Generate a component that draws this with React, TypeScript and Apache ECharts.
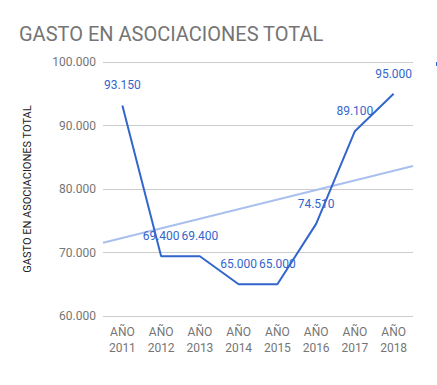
import React, { useEffect, useRef } from "react";
import * as echarts from "echarts";

const categories = ["AÑO\n2011", "AÑO\n2012", "AÑO\n2013", "AÑO\n2014", "AÑO\n2015", "AÑO\n2016", "AÑO\n2017", "AÑO\n2018"];
const values = [93150, 69400, 69400, 65000, 65000, 74510, 89100, 95000];
const seriesName = "GASTO EN ASOCIACIONES TOTAL";
const titleText = "GASTO EN ASOCIACIONES TOTAL";

function fmt(v: number): string {
  return Math.round(v).toString().replace(/\B(?=(\d{3})+(?!\d))/g, ".");
}

function trend(vals: number[]): [number, number][] {
  const n = vals.length;
  const mx = (n - 1) / 2;
  const my = vals.reduce((a, b) => a + b, 0) / n;
  let sxy = 0, sxx = 0;
  vals.forEach((v, i) => { sxy += (i - mx) * (v - my); sxx += (i - mx) * (i - mx); });
  const b = sxy / sxx;
  const a = my - b * mx;
  return [[-0.5, a + b * -0.5], [n - 0.5, a + b * (n - 0.5)]];
}

export default function App() {
  const ref = useRef<HTMLDivElement>(null);
  useEffect(() => {
    if (!ref.current) return;
    const chart = echarts.init(ref.current, null, { renderer: "svg" });
    const font = "Roboto, 'Noto Sans', sans-serif";
    chart.setOption({
      animation: false,
      backgroundColor: "#ffffff",
      textStyle: { fontFamily: font },
      title: {
        text: titleText,
        left: 14,
        top: 19,
        textStyle: { fontFamily: font, fontSize: 20, fontWeight: "normal", color: "#757575" },
      },
      legend: {
        left: 431,
        top: 57,
        icon: "rect",
        itemWidth: 6,
        itemHeight: 4,
        itemGap: 0,
        data: [seriesName],
        formatter: () => "",
        textStyle: { fontSize: 12, color: "#222" },
      },
      grid: { left: 103, right: 24, top: 62, bottom: 69 },
      xAxis: [
        {
          type: "category",
          data: categories,
          boundaryGap: true,
          axisLine: { show: false },
          axisTick: { show: false },
          axisLabel: { color: "#757575", fontSize: 12, lineHeight: 16, margin: 8, interval: 0 },
        },
        {
          type: "value",
          min: -0.5,
          max: categories.length - 0.5,
          show: false,
        },
      ],
      yAxis: {
        type: "value",
        min: 60000,
        max: 100000,
        interval: 10000,
        name: "GASTO EN ASOCIACIONES TOTAL",
        nameLocation: "middle",
        nameGap: 70,
        nameTextStyle: { color: "#222222", fontSize: 11 },
        axisLine: { show: false },
        axisTick: { show: false },
        axisLabel: { color: "#757575", fontSize: 12, margin: 7, formatter: (v: number) => fmt(v) },
        splitLine: { lineStyle: { color: "#cccccc", width: 1 } },
      },
      series: [
        {
          name: "Tendencia",
          type: "line",
          xAxisIndex: 1,
          data: trend(values),
          showSymbol: false,
          symbol: "none",
          lineStyle: { color: "#a9c0ee", width: 2 },
          silent: true,
          z: 1,
        },
        {
          name: seriesName,
          type: "line",
          xAxisIndex: 0,
          data: values,
          showSymbol: true,
          symbol: "circle",
          symbolSize: 0,
          color: "#3366cc",
          lineStyle: { color: "#3366cc", width: 2 },
          label: {
            show: true,
            position: "top",
            distance: 14,
            color: "#3366cc",
            fontSize: 12,
            formatter: (p: any) => fmt(p.value),
          },
          labelLayout: { hideOverlap: false },
          z: 2,
        },
      ],
    });
    return () => chart.dispose();
  }, []);
  return <div ref={ref} style={{ position: "absolute", left: 0, top: 0, width: 437, height: 385 }} />;
}
